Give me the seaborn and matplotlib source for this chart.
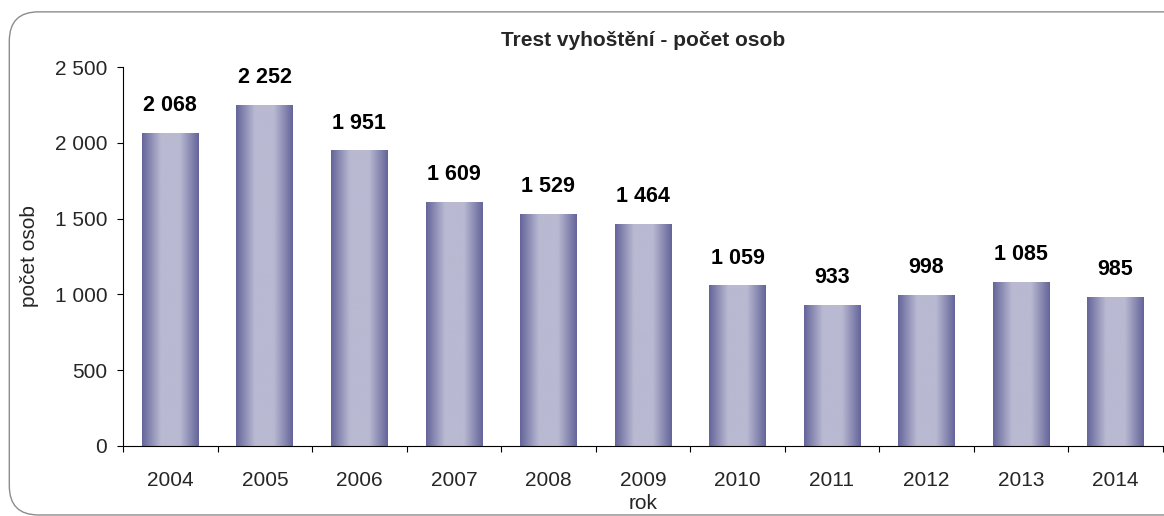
import numpy as np
import pandas as pd
import matplotlib
matplotlib.use("Agg")
import matplotlib.pyplot as plt
from matplotlib.colors import LinearSegmentedColormap
from matplotlib.patches import FancyBboxPatch
import seaborn as sns

years = ["2004", "2005", "2006", "2007", "2008", "2009", "2010", "2011", "2012", "2013", "2014"]
persons = [2068, 2252, 1951, 1609, 1529, 1464, 1059, 933, 998, 1085, 985]
y_ticks = [0, 500, 1000, 1500, 2000, 2500]

sns.set_theme(style="white")
plt.rcParams['font.family'] = ['Liberation Sans', 'DejaVu Sans']

df = pd.DataFrame({'rok': years, 'osob': persons})

fig = plt.figure(figsize=(11.64, 5.16), dpi=100)
ax = fig.add_axes([0.1057, 0.1357, 0.8933, 0.7343])

# rounded frame around the whole chart
frame = FancyBboxPatch((0.008, 0.002), 1.05, 0.975, boxstyle="round,pad=0,rounding_size=0.025",
                       transform=fig.transFigure, facecolor='none', edgecolor='#8c8c8c',
                       linewidth=1.0, mutation_aspect=1164 / 516, zorder=0)
fig.patches.append(frame)

sns.barplot(data=df, x='rok', y='osob', color='#6a6a9a', width=0.6, ax=ax, saturation=1)

# horizontal gradient on each bar: dark edges, light centre
cmap = LinearSegmentedColormap.from_list('bar', ['#64649a', '#b9b9d2', '#b9b9d2', '#64649a'])
grad = np.linspace(0, 1, 256).reshape(1, -1)
for patch in ax.patches:
    x0, y0 = patch.get_x(), patch.get_y()
    w, h = patch.get_width(), patch.get_height()
    im = ax.imshow(grad, cmap=cmap, extent=[x0, x0 + w, y0, y0 + h], aspect='auto', zorder=2)
    im.set_clip_path(patch)

for i, v in enumerate(persons):
    ax.text(i, v + 180, f"{v:,}".replace(",", " "), ha='center', va='center',
            fontsize=15.5, fontweight='bold', color='black')

ax.set_xlim(-0.5, len(years) - 0.5)
ax.set_ylim(0, 2500)
ax.set_yticks(y_ticks)
ax.set_yticklabels([f"{t:,}".replace(",", " ") for t in y_ticks], fontsize=15)
ax.set_xticks(range(len(years)))
ax.set_xticklabels(years, fontsize=15)
ax.set_xticks(np.arange(-0.5, len(years), 1), minor=True)
ax.tick_params(axis='x', which='major', length=0, pad=18)
ax.tick_params(axis='x', which='minor', bottom=True, length=4.3, width=0.8, color='black')
ax.tick_params(axis='y', left=True, length=4.3, width=0.8, color='black', pad=7)

for side in ['top', 'right']:
    ax.spines[side].set_visible(False)
for side in ['left', 'bottom']:
    ax.spines[side].set_color('black')
    ax.spines[side].set_linewidth(0.8)

ax.set_xlabel('rok', fontsize=15, labelpad=3)
ax.set_ylabel('počet osob', fontsize=15, labelpad=11)
ax.set_title('Trest vyhoštění - počet osob', fontsize=15, fontweight='bold', pad=15)

fig.savefig('out.png', dpi=100)
